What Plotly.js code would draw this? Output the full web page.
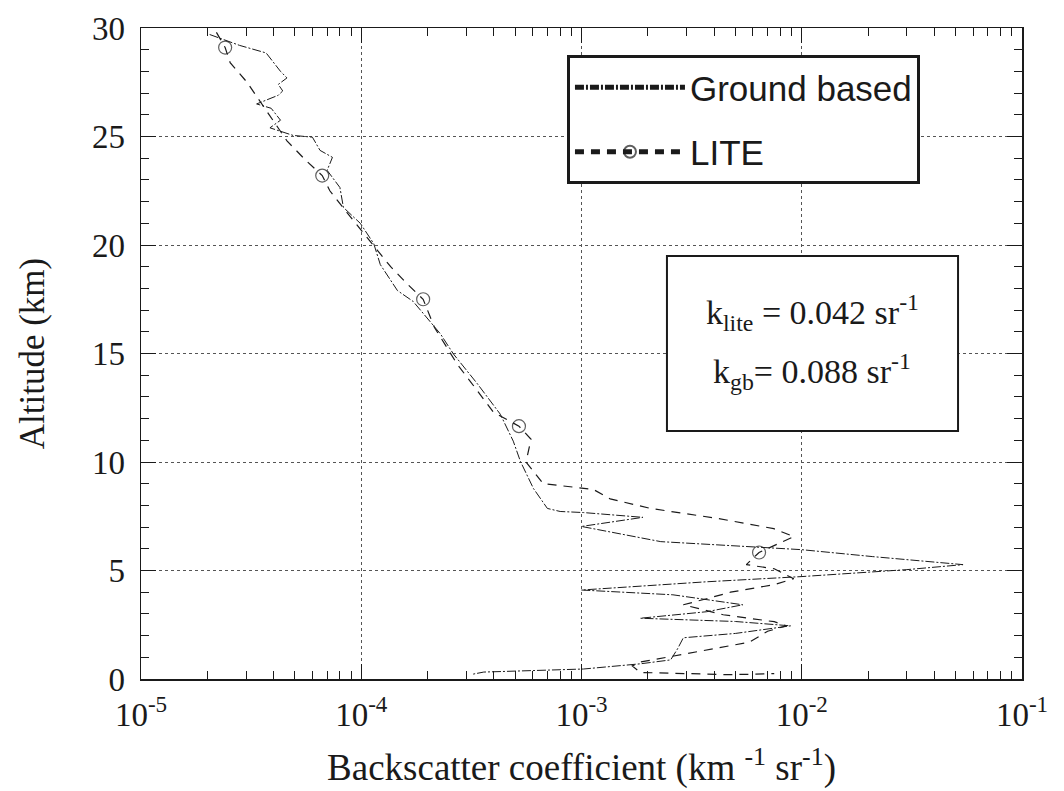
<!DOCTYPE html>
<html>
<head>
<meta charset="utf-8">
<script src="https://cdn.plot.ly/plotly-3.0.1.min.js"></script>
<style>
  html, body { margin: 0; padding: 0; background: #fff; }
  #chart { width: 1064px; height: 791px; }
</style>
</head>
<body>
<div id="chart"></div>
<script>
// ---- Data ----
// Ground based profile: altitude (km) and backscatter coefficient (km^-1 sr^-1)
const gbAlt = [29.7, 29.2, 28.85, 28.4, 28.0, 27.7, 27.4, 27.1, 26.9, 26.5, 26.3, 25.75, 25.4, 25.05, 24.97,
  24.36, 24.04, 23.44, 22.65, 21.73, 21.0, 20.06, 19.1, 17.9, 17.4, 15.9, 14.98, 13.6, 12.2, 10.96, 10.03,
  8.78, 7.86, 7.72, 7.67, 7.45, 7.03, 6.33, 6.1, 5.96, 5.64, 5.27, 5.04, 4.72, 4.48, 4.1, 3.88, 3.42,
  3.1, 2.8, 2.65, 2.45, 2.1, 1.9, 1.39, 0.88, 0.7, 0.46, 0.32, 0.22];
const gbVal = [2.05e-5, 2.8e-5, 3.7e-5, 4.0e-5, 4.3e-5, 4.6e-5, 4.2e-5, 4.4e-5, 4.2e-5, 3.35e-5, 3.9e-5, 4.3e-5, 3.85e-5, 4.9e-5, 6.0e-5,
  6.5e-5, 7.4e-5, 7.0e-5, 8.0e-5, 8.3e-5, 9.9e-5, 1.14e-4, 1.22e-4, 1.46e-4, 1.72e-4, 2.29e-4, 2.62e-4, 3.37e-4, 4.28e-4, 4.9e-4, 5.28e-4,
  6.05e-4, 7.0e-4, 8.0e-4, 1.02e-3, 1.9e-3, 1.0e-3, 2.29e-3, 5.86e-3, 1.0e-2, 2.1e-2, 5.4e-2, 3.0e-2, 1.0e-2, 3.7e-3, 1.0e-3, 2.6e-3, 5.4e-3,
  3.7e-3, 1.85e-3, 5.0e-3, 8.9e-3, 5.0e-3, 2.9e-3, 2.73e-3, 2.54e-3, 1.85e-3, 1.02e-3, 3.6e-4, 3.2e-4];

// LITE profile
const liteAlt = [29.8, 29.1, 28.4, 27.5, 24.8, 23.9, 23.2, 22.5, 21.5, 20.5, 19.6, 19.0, 18.2, 17.5, 16.2,
  14.5, 13.4, 12.3, 11.65, 11.05, 10.0, 9.0, 8.74, 8.3, 7.86, 7.4, 6.93, 6.56, 5.83, 5.27, 5.08, 4.62,
  4.35, 4.0, 3.7, 3.42, 2.96, 2.64, 2.45, 2.2, 1.7, 1.34, 1.0, 0.78, 0.6, 0.3, 0.25, 0.2, 0.22, 0.25];
const liteVal = [2.2e-5, 2.41e-5, 2.54e-5, 3.03e-5, 4.6e-5, 5.6e-5, 6.65e-5, 7.2e-5, 8.6e-5, 1.03e-4, 1.22e-4, 1.36e-4, 1.62e-4, 1.91e-4, 2.15e-4,
  2.73e-4, 3.3e-4, 3.98e-4, 5.2e-4, 5.9e-4, 5.6e-4, 6.7e-4, 1.13e-3, 1.35e-3, 2.06e-3, 4.15e-3, 7.46e-3, 9.2e-3, 6.4e-3, 5.6e-3, 7.5e-3, 9.2e-3,
  7.5e-3, 4.75e-3, 3.7e-3, 2.9e-3, 4.4e-3, 7.5e-3, 8.5e-3, 7.0e-3, 5.8e-3, 3.7e-3, 2.47e-3, 1.85e-3, 1.7e-3, 1.85e-3, 3.0e-3, 4.5e-3, 6.0e-3, 7.5e-3];
// Altitudes of the LITE points drawn with a circle
const liteCircleAlt = [29.1, 23.2, 17.5, 11.65, 5.83];

// Axis ticks and texts
const xTickVals = [1e-5, 1e-4, 1e-3, 1e-2, 1e-1];
const xTickText = ['10<sup>-5</sup>', '10<sup>-4</sup>', '10<sup>-3</sup>', '10<sup>-2</sup>', '10<sup>-1</sup>'];
const yTickVals = [0, 5, 10, 15, 20, 25, 30];
const seriesNames = ['Ground based', 'LITE'];
const boxLines = ['k<sub>lite</sub> = 0.042 sr<sup>-1</sup>', 'k<sub>gb</sub>= 0.088 sr<sup>-1</sup>'];

// minor x ticks at 2..9 of each decade (axis decoration)
const xMinor = [];
for (let e = -5; e < -1; e++) for (let m = 2; m <= 9; m++) xMinor.push(m * Math.pow(10, e));

const ink = '#1a1a1a';
const serif = 'Liberation Serif, Times New Roman, serif';

const liteSizes = liteAlt.map(a => liteCircleAlt.includes(a) ? 13 : 0);

const traces = [
  {
    x: gbVal, y: gbAlt, name: seriesNames[0], type: 'scatter', mode: 'lines',
    line: { color: ink, width: 1.0, dash: '9px,2px,2px,2px' },
    legendgroup: 'g1'
  },
  {
    x: liteVal, y: liteAlt, name: seriesNames[1], type: 'scatter', mode: 'lines+markers',
    line: { color: ink, width: 1.2, dash: '9px,7px' },
    marker: { symbol: 'circle-open', size: liteSizes, color: ink, line: { width: 1.2, color: ink } },
    legendgroup: 'g2'
  }
];

const axisCommon = {
  showline: true, linecolor: ink, linewidth: 1.5, mirror: 'allticks',
  ticks: 'inside', ticklen: 15, tickwidth: 1, tickcolor: ink,
  showgrid: true, gridcolor: '#555', gridwidth: 1, griddash: 'dot',
  zeroline: false,
  tickfont: { family: serif, size: 33, color: ink }
};

const layout = {
  width: 1064, height: 791,
  paper_bgcolor: '#fff', plot_bgcolor: '#fff',
  margin: { l: 141, r: 42, t: 28, b: 112 },
  showlegend: true,
  xaxis: Object.assign({}, axisCommon, {
    type: 'log', range: [-5, -1],
    tickmode: 'array', tickvals: xTickVals, ticktext: xTickText,
    ticklabelstandoff: 6,
    minor: { tickmode: 'array', tickvals: xMinor, ticks: 'inside', ticklen: 8, tickcolor: ink, showgrid: false },
    title: { text: 'Backscatter coefficient (km <sup>-1</sup> sr<sup>-1</sup>)', font: { family: serif, size: 37, color: ink }, standoff: 22 }
  }),
  yaxis: Object.assign({}, axisCommon, {
    range: [0, 30], tickmode: 'array', tickvals: yTickVals,
    ticklabelstandoff: 8,
    minor: { dtick: 1, ticks: 'inside', ticklen: 8, tickcolor: ink, showgrid: false },
    title: { text: 'Altitude (km)', font: { family: serif, size: 35, color: ink }, standoff: 36 }
  }),
  legend: {
    x: 0.4835, y: 0.9585, xanchor: 'left', yanchor: 'top',
    bgcolor: '#fff', bordercolor: ink, borderwidth: 3,
    font: { family: 'Liberation Sans, Arial, sans-serif', size: 35, color: ink },
    itemwidth: 110, itemsizing: 'constant', tracegroupgap: 16
  },
  shapes: [{
    type: 'rect', xref: 'paper', yref: 'paper',
    x0: 0.597, x1: 0.9274, y0: 0.381, y1: 0.6498,
    line: { color: ink, width: 2 }, fillcolor: '#fff', layer: 'above'
  }],
  annotations: [
    {
      xref: 'paper', yref: 'paper', x: 0.7617, y: 0.5637, xanchor: 'center', yanchor: 'middle',
      text: boxLines[0], showarrow: false, font: { family: serif, size: 34, color: ink }
    },
    {
      xref: 'paper', yref: 'paper', x: 0.7617, y: 0.4716, xanchor: 'center', yanchor: 'middle',
      text: boxLines[1], showarrow: false, font: { family: serif, size: 34, color: ink }
    }
  ]
};

Plotly.newPlot('chart', traces, layout, { displayModeBar: false, staticPlot: true });
</script>
</body>
</html>
